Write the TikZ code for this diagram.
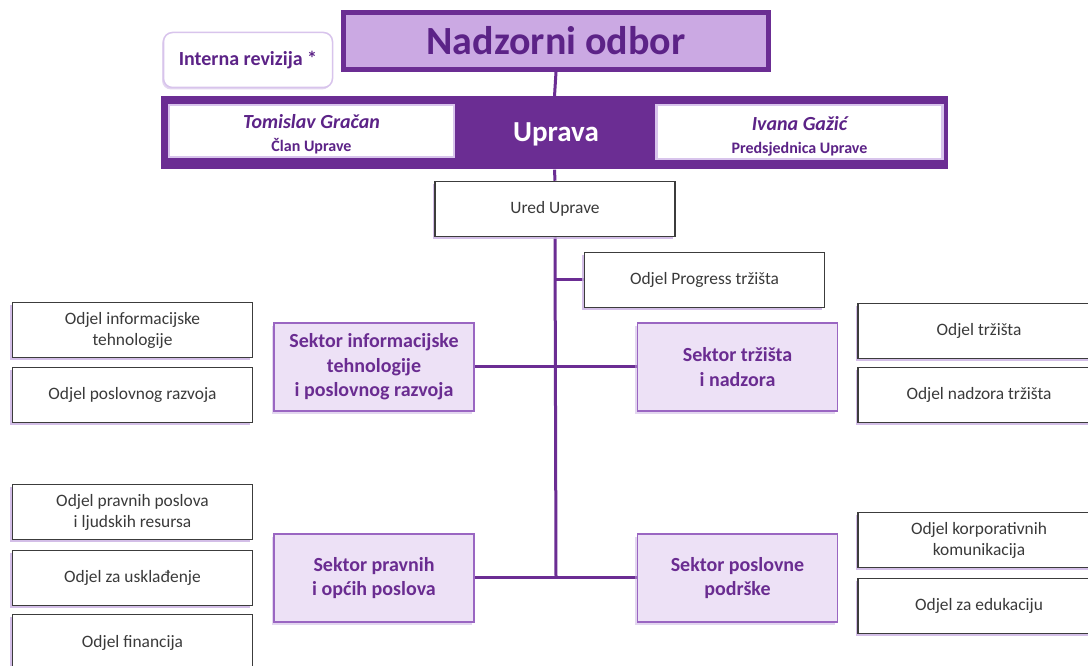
\documentclass[tikz,border=0pt]{standalone}
\usepackage{fontspec}
\setmainfont{Carlito}
\usetikzlibrary{shadows,backgrounds}
\definecolor{updark}{HTML}{6B2D93}
\definecolor{nadfill}{HTML}{CBA9E3}
\definecolor{titletext}{HTML}{5C2387}
\definecolor{sekfill}{HTML}{EDE1F6}
\definecolor{sekborder}{HTML}{9A66C2}
\definecolor{sektext}{HTML}{6A2C91}
\definecolor{odgray}{HTML}{3C3C3C}
\definecolor{odtext}{HTML}{3A3A3A}
\definecolor{shadowc}{HTML}{C9AEE2}
\definecolor{lavline}{HTML}{D8C4EC}
\tikzset{
  odjel/.style={draw=odgray, line width=1.5pt, fill=white, minimum width=240pt,
    minimum height=55pt, inner sep=2pt, align=center, text=odtext,
    font=\fontsize{17.4}{21}\selectfont,
    drop shadow={shadow xshift=-2.5pt, shadow yshift=-2.5pt, fill=shadowc, opacity=0.8}},
  sektor/.style={draw=sekborder, line width=1.5pt, fill=sekfill, minimum width=200pt,
    minimum height=88pt, inner sep=2pt, align=center, text=sektext,
    font=\fontsize{20}{24.5}\selectfont\bfseries,
    drop shadow={shadow xshift=-2.5pt, shadow yshift=-2.5pt, fill=shadowc, opacity=0.5}},
  conn/.style={draw=updark, line width=3pt},
  person/.style={draw=lavline, line width=2.5pt, fill=white, inner sep=0pt},
  persontext/.style={align=center, text=titletext, font=\fontsize{20}{23}\selectfont, inner sep=0pt},
}
\begin{document}
\begin{tikzpicture}[x=1pt, y=-1pt]
\useasboundingbox (0,0) rectangle (1088,666);

% top
\node[draw=updark, line width=5pt, fill=nadfill, minimum width=425pt, minimum height=57pt,
  inner sep=0pt, text=titletext, font=\fontsize{40}{44}\selectfont\bfseries] (nad) at (556,41) {Nadzorni odbor};
\node[draw=lavline, line width=1.5pt, fill=white, rounded corners=9pt, minimum width=169pt,
  minimum height=55pt, inner sep=0pt, text=titletext, font=\fontsize{20}{24}\selectfont\bfseries,
  drop shadow={shadow xshift=-1.5pt, shadow yshift=-2pt, fill=shadowc, opacity=0.5}] (irev) at (248,60) {Interna revizija *};

\node[fill=updark, minimum width=787pt, minimum height=73pt, inner sep=0pt] (upr) at (554.5,133) {};
\node[text=white, font=\fontsize{29}{32}\selectfont\bfseries] (uprt) at (556,134) {Uprava};
\node[person, minimum width=285pt, minimum height=52pt] (tom) at (311.5,131) {};
\node[persontext] (tomt) at ([yshift=-3.5pt]tom.center)
  {{\bfseries\itshape Tomislav Gračan}\\{\fontsize{16}{19}\selectfont\bfseries Član Uprave}};
\node[person, minimum width=286pt, minimum height=54pt] (iva) at (799.5,132) {};
\node[persontext] (ivat) at ([yshift=-4.5pt]iva.center)
  {{\bfseries\itshape Ivana Gažić}\\{\fontsize{16}{19}\selectfont\bfseries Predsjednica Uprave}};

% middle
\node[odjel] (ured) at (555,209) {Ured Uprave};
\node[odjel] (prog) at (704.5,280) {Odjel Progress tržišta};

\node[sektor] (sit) at (374,367) {Sektor informacijske\\tehnologije\\i poslovnog razvoja};
\node[sektor] (str) at (737.5,367) {Sektor tržišta\\i nadzora};
\node[sektor] (spr) at (374,578) {Sektor pravnih\\i općih poslova};
\node[sektor] (spp) at (737.5,578) {Sektor poslovne\\podrške};

\node[odjel] (oit) at (132.5,330) {Odjel informacijske\\tehnologije};
\node[odjel] (opr) at (132.5,395) {Odjel poslovnog razvoja};
\node[odjel, minimum width=242pt] (otr) at (979,331) {Odjel tržišta};
\node[odjel, minimum width=242pt] (onz) at (979,395) {Odjel nadzora tržišta};

\node[odjel] (opp) at (132.5,512) {Odjel pravnih poslova\\i ljudskih resursa};
\node[odjel] (ous) at (132.5,578) {Odjel za usklađenje};
\node[odjel, minimum height=57pt] (ofi) at (132.5,643) {Odjel financija};
\node[odjel, minimum width=242pt] (okk) at (979,540) {Odjel korporativnih\\komunikacija};
\node[odjel, minimum width=242pt] (oed) at (979,606) {Odjel za edukaciju};

% connectors
\coordinate (jP) at (556,279);
\coordinate (jM) at (556,366);
\coordinate (jB) at (556,577);
\begin{scope}[on background layer]
\fill[white] (0,0) rectangle (1088,666);
\draw[conn] (nad.south) -- (upr.north);
\draw[conn] (upr.south) -- (ured.north);
\draw[conn] (ured.south) -- (jB);
\draw[conn] (jP) -- (prog.west |- jP);
\draw[conn] (sit.east |- jM) -- (jM) -- (str.west |- jM);
\draw[conn] (spr.east |- jB) -- (jB) -- (spp.west |- jB);
\end{scope}
\end{tikzpicture}
\end{document}
